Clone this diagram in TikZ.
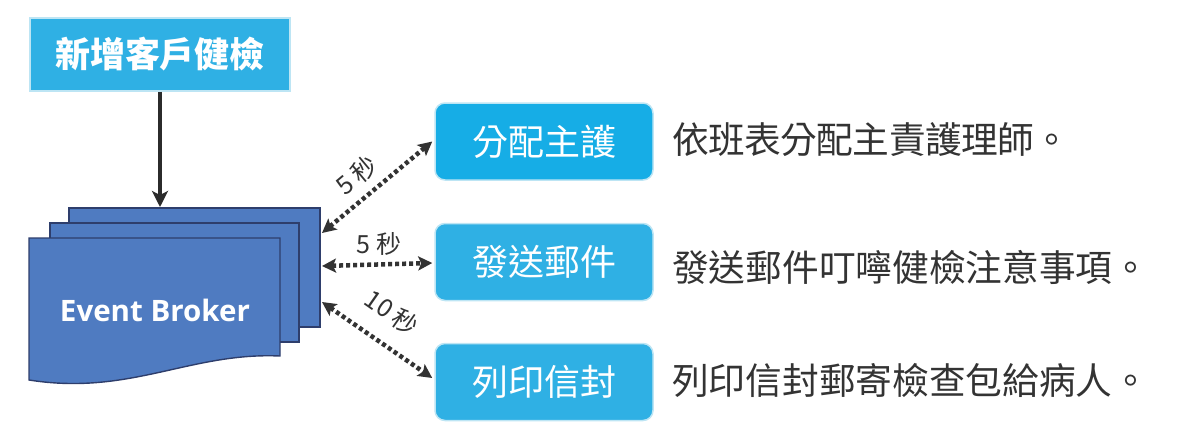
\documentclass[tikz,border=0pt]{standalone}
\usepackage{fontspec}
\setmainfont{Noto Sans CJK TC}
\newfontfamily\latinfont{Open Sans}
\usetikzlibrary{arrows.meta,calc}
\definecolor{boxblue}{HTML}{2FB0E4}
\definecolor{boxblueA}{HTML}{16ADE6}
\definecolor{boxedge}{HTML}{BDE5F4}
\definecolor{docblue}{HTML}{4F7BC1}
\definecolor{docedge}{HTML}{2E3E6C}
\definecolor{ink}{HTML}{333333}
\tikzset{
  topbox/.style={draw=boxedge, line width=1.5pt, fill=boxblue, minimum width=260pt, minimum height=73pt, inner sep=0pt, text=white, font=\fontsize{35}{38}\selectfont\bfseries},
  taskbox/.style={draw=boxedge, line width=1.5pt, fill=boxblue, rounded corners=10pt, minimum width=218pt, minimum height=77pt, inner sep=0pt, text=white, font=\fontsize{36}{40}\selectfont},
  page/.style={draw=docedge, line width=1.4pt, fill=docblue},
  desc/.style={anchor=west, inner sep=0pt, text=ink, font=\fontsize{36.7}{40}\selectfont},
  dotarrow/.style={draw=ink, line width=4.5pt, dash pattern=on 4pt off 3pt, {Stealth[length=14pt,width=14pt,inset=3pt]}-{Stealth[length=14pt,width=14pt,inset=3pt]}},
  lbl/.style={text=ink, inner sep=0pt, font=\fontsize{25}{28}\selectfont},
}
\begin{document}
\begin{tikzpicture}[x=1pt,y=-1pt]
\useasboundingbox (0,0) rectangle (1200,447);
% top box
\node[topbox] (new) at (160,54.5) {新增客戶健檢};
% stacked documents
\path[page] (69,208) rectangle (320,327);
\path[page] (50,223) rectangle (299,342);
\path[page] (29,238) -- (280,238) -- (280,356) .. controls (190,352) and (130,396) .. (29,380) -- cycle;
\node[inner sep=0pt, text=white, font=\latinfont\fontsize{29.5}{32}\selectfont\bfseries] (broker) at (155,310) {Event Broker};
\coordinate (btop) at (160,207);
\coordinate (s1) at (322,233);
\coordinate (s2) at (322,266);
\coordinate (s3) at (322,302);
% task boxes
\node[taskbox, fill=boxblueA] (t1) at (544,141.5) {分配主護};
\node[taskbox] (t2) at (544,262) {發送郵件};
\node[taskbox] (t3) at (544,382) {列印信封};
% descriptions
\node[desc, font=\fontsize{36.7}{40}\selectfont\addfontfeature{LetterSpace=-1.5}] (d1) at (672,140) {依班表分配主責護理師。};
\node[desc] (d2) at (672,267) {發送郵件叮嚀健檢注意事項。};
\node[desc] (d3) at (672,380) {列印信封郵寄檢查包給病人。};
% arrows
\draw[line width=3.5pt, draw=ink!85!black, -{Stealth[length=16pt,width=16pt,inset=4pt]}] (new.south) -- (btop);
\draw[dotarrow] (s1) -- ($(t1.west)+(-2,0)$);
\draw[dotarrow] (s2) -- ($(t2.west)+(-2,1)$);
\draw[dotarrow] (s3) -- ($(t3.west)+(-2,-4)$);
% labels
\node[lbl, rotate=40] (l1) at (356,175) {5 秒};
\node[lbl] (l2) at (379,244) {5 秒};
\node[lbl, rotate=-35] (l3) at (392,312) {10 秒};
\end{tikzpicture}
\end{document}
